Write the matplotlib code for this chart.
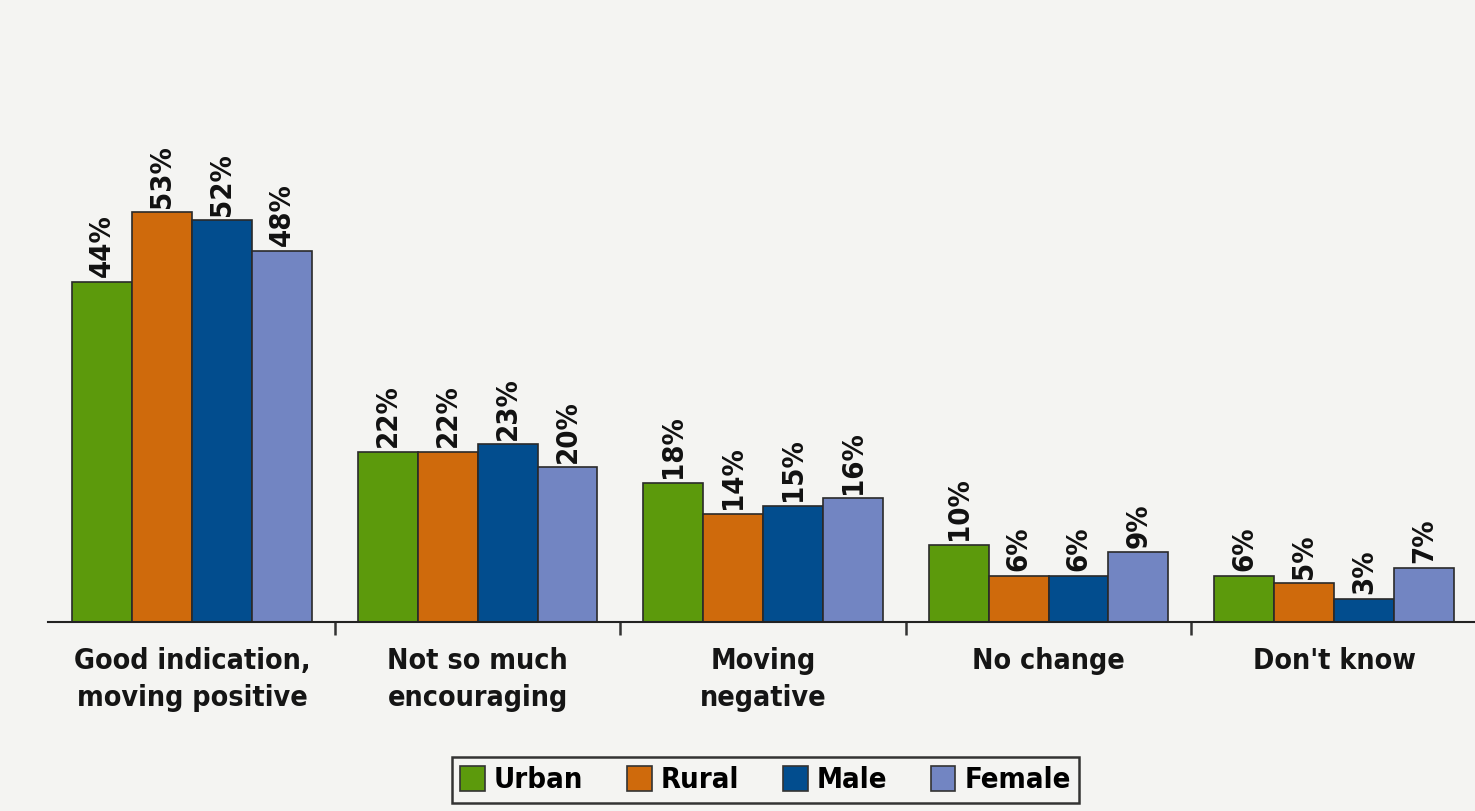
import matplotlib
matplotlib.use("Agg")
import matplotlib.pyplot as plt
import numpy as np
from matplotlib.patches import Patch

categories = ["Good indication,\nmoving positive", "Not so much\nencouraging",
              "Moving\nnegative", "No change", "Don't know"]
series_names = ["Urban", "Rural", "Male", "Female"]
urban = [44, 22, 18, 10, 6]
rural = [53, 22, 14, 6, 5]
male = [52, 23, 15, 6, 3]
female = [48, 20, 16, 9, 7]
values = [urban, rural, male, female]
colors = ["#5C9A0C", "#CF6A0C", "#024D8E", "#7285C2"]

bg = "#F4F4F2"
font = dict(family="DejaVu Sans", fontstretch="condensed", fontweight="bold")

fig = plt.figure(figsize=(14.75, 8.11), dpi=100, facecolor=bg)
ax = fig.add_axes([0.0325, 0.233, 0.9675, 0.767])
ax.set_facecolor(bg)

x = np.arange(len(categories))
w = 0.21
for i, (name, vals, c) in enumerate(zip(series_names, values, colors)):
    pos = x + (i - 1.5) * w
    ax.bar(pos, vals, width=w, color=c, edgecolor="#2a2a2a", linewidth=1.2, label=name)
    for xp, v in zip(pos, vals):
        ax.text(xp, v + 0.6, f"{v}%", rotation=90, ha="center", va="bottom",
                fontsize=21, color="#111111", **font)

ax.set_xlim(-0.505, 4.494)
ax.set_ylim(0, 80.5)
for s in ["top", "right", "left"]:
    ax.spines[s].set_visible(False)
ax.spines["bottom"].set_color("#222222")
ax.spines["bottom"].set_linewidth(1.5)
ax.set_yticks([])
ax.set_xticks([0.5, 1.5, 2.5, 3.5])
ax.set_xticklabels([])
ax.tick_params(axis="x", direction="out", length=9, width=1.8, color="#333333")

for xi, lab in zip(x, categories):
    ax.text(xi, -3.2, lab, ha="center", va="top", fontsize=20.5, color="#151515",
            linespacing=1.42, **font)

handles = [Patch(facecolor=c, edgecolor="#333333", linewidth=1.2) for c in colors]
leg = fig.legend(handles, series_names, loc="center", bbox_to_anchor=(0.519, 0.038),
                 ncol=4, frameon=True, fancybox=False, edgecolor="#333333",
                 facecolor=bg, framealpha=1, handlelength=0.85, handleheight=0.95,
                 handletextpad=0.3, columnspacing=1.5, borderpad=0.3,
                 prop=dict(family="DejaVu Sans", stretch="condensed", weight="bold", size=21))
leg.get_frame().set_linewidth(1.8)

fig.savefig("out.png", dpi=100, facecolor=bg)
